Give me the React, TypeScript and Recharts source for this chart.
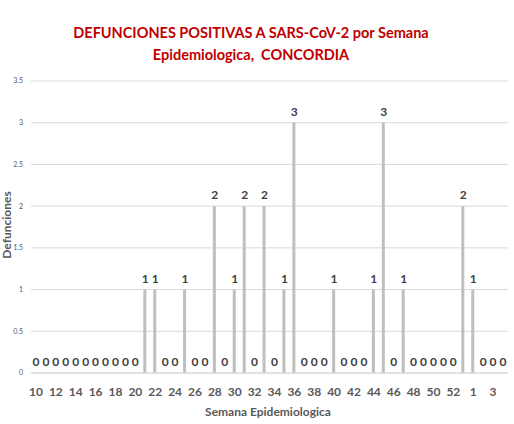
import { ComposedChart, Bar, Line, XAxis, YAxis, CartesianGrid, LabelList } from 'recharts';

const weeks = [
  '10', '11', '12', '13', '14', '15', '16', '17', '18', '19', '20',
  '21', '22', '23', '24', '25', '26', '27', '28', '29', '30',
  '31', '32', '33', '34', '35', '36', '37', '38', '39', '40',
  '41', '42', '43', '44', '45', '46', '47', '48', '49', '50',
  '51', '52', '53', '1', '2', '3', '4',
];

const deaths = [
  0, 0, 0, 0, 0, 0, 0, 0, 0, 0, 0,
  1, 1, 0, 0, 1, 0, 0, 2, 0, 1,
  2, 0, 2, 0, 1, 3, 0, 0, 0, 1,
  0, 0, 0, 1, 3, 0, 1, 0, 0, 0,
  0, 0, 2, 1, 0, 0, 0,
];

const yTicks = [0, 0.5, 1, 1.5, 2, 2.5, 3, 3.5];

const data = weeks.map((w, i) => ({ week: w, value: deaths[i] }));

const font = 'Lato, "Open Sans", sans-serif';

export default function App() {
  return (
    <div style={{ position: 'absolute', left: 0, top: 0, width: 514, height: 424, background: '#fff', fontFamily: font, overflow: 'hidden' }}>
      <div style={{ position: 'absolute', left: 0, top: 22, width: 502, textAlign: 'center', color: '#c00000', fontWeight: 700, fontSize: 14.5, lineHeight: '22px' }}>
        DEFUNCIONES POSITIVAS A SARS-CoV-2 por Semana
        <br />
        Epidemiologica,&nbsp; CONCORDIA
      </div>
      <ComposedChart width={514} height={424} data={data} margin={{ top: 81, right: 6, bottom: 21, left: 0 }}>
        <CartesianGrid vertical={false} stroke="#d9d9d9" />
        <XAxis
          dataKey="week"
          interval={1}
          axisLine={{ stroke: '#d9d9d9' }}
          tickLine={false}
          tickMargin={8}
          height={30}
          tick={{ fontSize: 12, fontWeight: 700, fill: '#595959', fontFamily: font }}
        />
        <YAxis
          width={31}
          domain={[0, 3.5]}
          ticks={yTicks}
          axisLine={false}
          tickLine={false}
          tick={{ fontSize: 7, fill: '#595959', fontFamily: font }}
        />
        <Bar dataKey="value" fill="#bfbfbf" barSize={3} isAnimationActive={false} />
        <Line dataKey="value" stroke="none" dot={false} activeDot={false} isAnimationActive={false}>
          <LabelList dataKey="value" position="top" offset={7} style={{ fontSize: 12, fontWeight: 700, fill: '#404040', fontFamily: font }} />
        </Line>
        <text x={268} y={416} textAnchor="middle" fontSize={12} fontWeight={700} fill="#595959" fontFamily={font}>
          Semana Epidemiologica
        </text>
        <text x={11} y={225} transform="rotate(-90 11 225)" textAnchor="middle" fontSize={12} fontWeight={700} fill="#595959" fontFamily={font}>
          Defunciones
        </text>
      </ComposedChart>
    </div>
  );
}
